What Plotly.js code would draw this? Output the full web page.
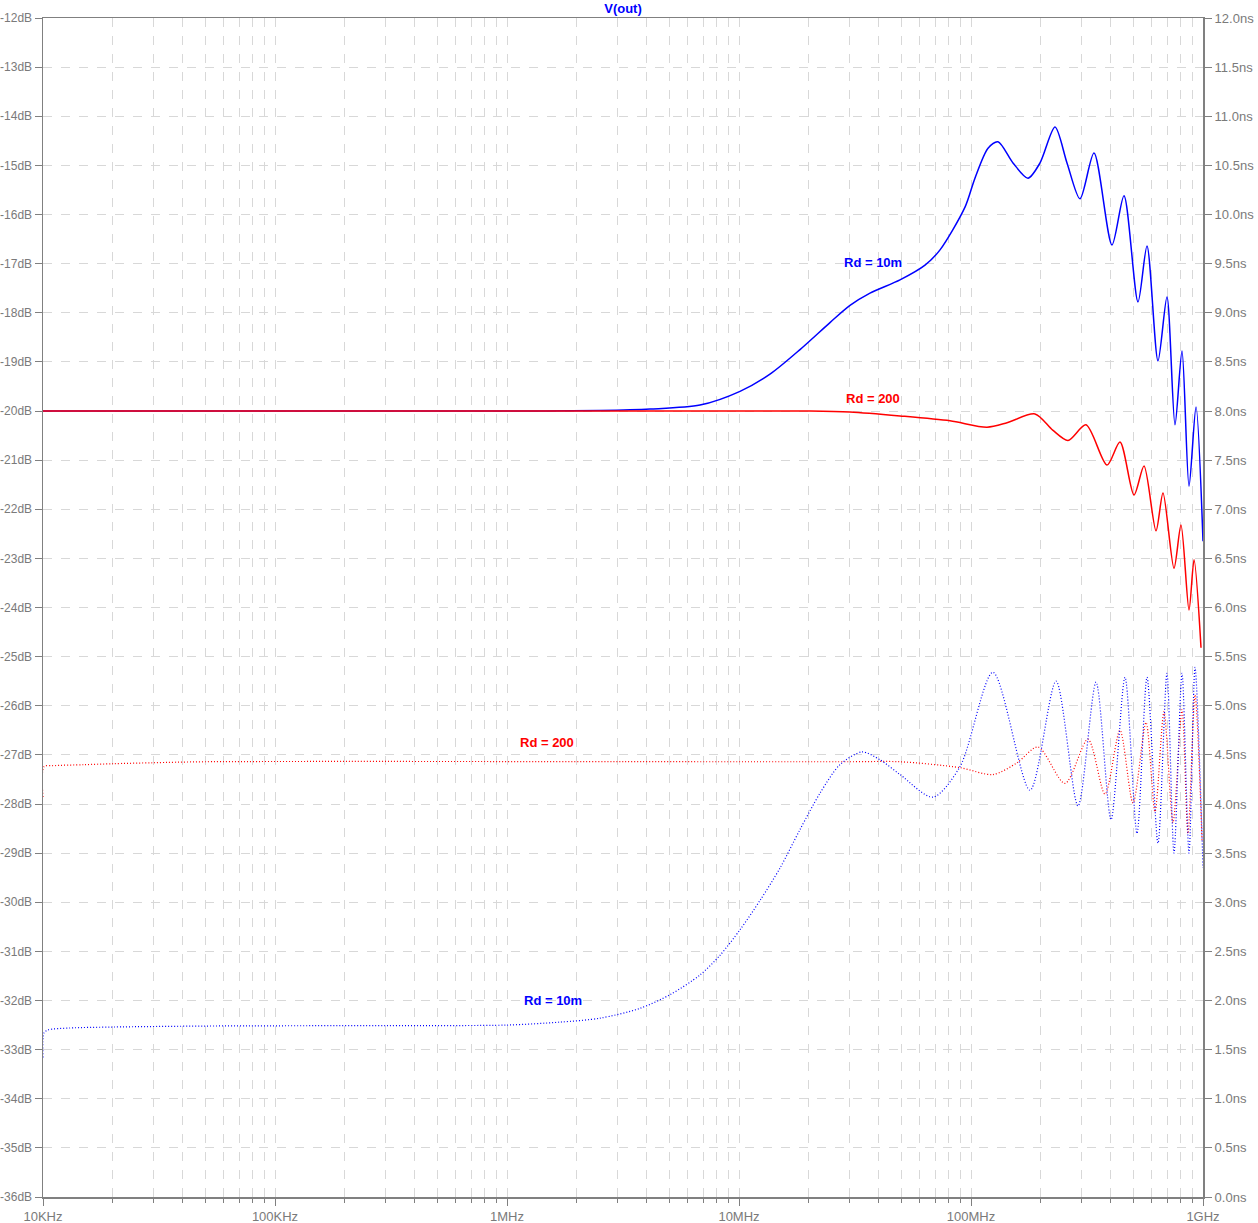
<!DOCTYPE html>
<html>
<head>
<meta charset="utf-8">
<script src="https://cdn.plot.ly/plotly-3.0.1.min.js"></script>
<style>html,body{margin:0;padding:0;background:#fff;}#chart{width:1258px;height:1223px;}</style>
</head>
<body>
<div id="chart"></div>
<script>
// Frequencies in Hz
const magBlueFreq = [1e4, 1.458e6, 2.517e6, 4.134e6, 6.79e6, 1.01e7, 1.36e7, 1.832e7, 2.467e7, 3.009e7, 3.67e7, 4.943e7, 6.335e7, 7.352e7, 9.422e7, 1.04e8, 1.184e8, 1.307e8, 1.517e8, 1.761e8, 1.984e8, 2.302e8, 2.593e8, 2.95e8, 3.39e8, 4.053e8, 4.565e8, 5.246e8, 5.736e8, 6.397e8, 6.993e8, 7.573e8, 8.118e8, 8.704e8, 9.329e8, 1e9];
const magBlue = [-20, -20, -19.99, -19.96, -19.88, -19.6, -19.25, -18.75, -18.2, -17.85, -17.6, -17.33, -17.03, -16.72, -15.85, -15.26, -14.65, -14.52, -14.95, -15.26, -14.95, -14.22, -14.95, -15.68, -14.75, -16.62, -15.62, -17.78, -16.64, -18.98, -17.68, -20.28, -18.78, -21.53, -19.92, -22.65];

const magRedFreq = [1e4, 2.023e7, 3.009e7, 4.943e7, 8.12e7, 1.172e8, 1.43e8, 1.887e8, 2.25e8, 2.619e8, 3.13e8, 3.857e8, 4.387e8, 5.043e8, 5.569e8, 6.273e8, 6.723e8, 7.499e8, 8.037e8, 8.704e8, 9.147e8, 9.804e8];
const magRed = [-20, -20, -20.02, -20.1, -20.2, -20.33, -20.24, -20.06, -20.39, -20.6, -20.28, -21.1, -20.63, -21.71, -21.12, -22.44, -21.67, -23.2, -22.32, -24.05, -23.03, -24.82];

const gdRedFreq = [1e4, 1.01e4, 1.1e4, 1.5e4, 2e4, 3e4, 5e4, 1e7, 3e7, 4.943e7, 8.966e7, 1.244e8, 1.58e8, 1.945e8, 2.542e8, 3.193e8, 3.781e8, 4.387e8, 4.993e8, 5.68e8, 6.211e8, 6.79e8, 7.423e8, 8.118e8, 8.616e8, 9.238e8, 9.901e8];
const gdRed = [4.07, 4.38, 4.39, 4.40, 4.41, 4.42, 4.43, 4.43, 4.43, 4.43, 4.37, 4.30, 4.42, 4.58, 4.21, 4.66, 4.10, 4.75, 4.01, 4.83, 3.92, 4.94, 3.81, 4.96, 3.70, 5.11, 3.63];

const gdBlueFreq = [1e4, 1.01e4, 1.05e4, 1.3e4, 2e4, 5e4, 3e5, 1e6, 1.69e6, 2.517e6, 3.74e6, 5.05e6, 6.79e6, 8.28e6, 1.01e7, 1.233e7, 1.504e7, 1.832e7, 2.234e7, 2.723e7, 3.39e7, 4.054e7, 4.943e7, 6.86e7, 8.966e7, 1.244e8, 1.796e8, 2.325e8, 2.892e8, 3.459e8, 4.013e8, 4.611e8, 5.194e8, 5.736e8, 6.397e8, 6.993e8, 7.499e8, 8.118e8, 8.704e8, 9.238e8, 1e9];
const gdBlue = [1.42, 1.67, 1.70, 1.72, 1.73, 1.74, 1.745, 1.75, 1.78, 1.82, 1.92, 2.06, 2.26, 2.46, 2.72, 3.02, 3.35, 3.74, 4.11, 4.40, 4.53, 4.45, 4.30, 4.07, 4.38, 5.34, 4.14, 5.25, 3.98, 5.24, 3.84, 5.29, 3.70, 5.29, 3.60, 5.33, 3.50, 5.33, 3.50, 5.39, 3.35];

const xTickVals = [1e4, 1e5, 1e6, 1e7, 1e8, 1e9];
const xTickText = ['10KHz', '100KHz', '1MHz', '10MHz', '100MHz', '1GHz'];
const dbTickVals = [-12,-13,-14,-15,-16,-17,-18,-19,-20,-21,-22,-23,-24,-25,-26,-27,-28,-29,-30,-31,-32,-33,-34,-35,-36];
const dbTickText = ['-12dB','-13dB','-14dB','-15dB','-16dB','-17dB','-18dB','-19dB','-20dB','-21dB','-22dB','-23dB','-24dB','-25dB','-26dB','-27dB','-28dB','-29dB','-30dB','-31dB','-32dB','-33dB','-34dB','-35dB','-36dB'];
const nsTickVals = [12,11.5,11,10.5,10,9.5,9,8.5,8,7.5,7,6.5,6,5.5,5,4.5,4,3.5,3,2.5,2,1.5,1,0.5,0];
const nsTickText = ['12.0ns','11.5ns','11.0ns','10.5ns','10.0ns','9.5ns','9.0ns','8.5ns','8.0ns','7.5ns','7.0ns','6.5ns','6.0ns','5.5ns','5.0ns','4.5ns','4.0ns','3.5ns','3.0ns','2.5ns','2.0ns','1.5ns','1.0ns','0.5ns','0.0ns'];

const labelText = ['Rd = 10m', 'Rd = 200', 'Rd = 200', 'Rd = 10m'];
const labelFreq = [3.78e7, 3.78e7, 1.486e6, 1.578e6];
const labelVal = [-16.97, -19.74, -26.74, -31.99];
const labelColor = ['#0000ff', '#ff0000', '#ff0000', '#0000ff'];

const minorVals = [];
for (let d = 4; d < 9; d++) for (let k = 2; k <= 9; k++) minorVals.push(k * Math.pow(10, d));

const BLUE = '#0000ff', RED = '#ff0000', AX = '#808080', GRID = '#d8d8d8', TXT = '#7a7a7a';
const FONT = 'Liberation Sans, Arial, sans-serif';

const traces = [
  {x: magBlueFreq, y: magBlue, type: 'scatter', mode: 'lines', line: {color: BLUE, width: 1.5, shape: 'spline', smoothing: 0.8}, yaxis: 'y', hoverinfo: 'skip'},
  {x: magRedFreq, y: magRed, type: 'scatter', mode: 'lines', line: {color: RED, width: 1.5, shape: 'spline', smoothing: 0.8}, yaxis: 'y', hoverinfo: 'skip'},
  {x: gdRedFreq, y: gdRed, type: 'scatter', mode: 'lines', line: {color: RED, width: 1.2, dash: '1px,2px', shape: 'spline', smoothing: 0.8}, yaxis: 'y2', hoverinfo: 'skip'},
  {x: gdBlueFreq, y: gdBlue, type: 'scatter', mode: 'lines', line: {color: BLUE, width: 1.2, dash: '1px,2px', shape: 'spline', smoothing: 0.8}, yaxis: 'y2', hoverinfo: 'skip'}
];

const annotations = labelText.map((t, i) => ({
  x: Math.log10(labelFreq[i]), y: labelVal[i], xref: 'x', yref: 'y',
  text: '<b>' + t + '</b>', showarrow: false,
  font: {family: FONT, size: 13, color: labelColor[i]}
}));

const layout = {
  width: 1258, height: 1223,
  margin: {l: 43, r: 55, t: 18, b: 26, pad: 0},
  paper_bgcolor: '#ffffff', plot_bgcolor: '#ffffff',
  showlegend: false,
  font: {family: FONT, size: 13, color: TXT},
  title: {text: '<b>V(out)</b>', font: {family: FONT, size: 13, color: BLUE}, x: 0.5, xref: 'paper', y: 1 - 8/1223, yref: 'container', yanchor: 'middle', xanchor: 'center'},
  xaxis: {
    type: 'log', range: [4, 9], tickmode: 'array', tickvals: xTickVals, ticktext: xTickText,
    ticks: 'outside', ticklen: 7, tickcolor: AX, tickwidth: 1,
    showline: true, linecolor: AX, linewidth: 1.5, mirror: true,
    showgrid: true, gridcolor: GRID, griddash: 'dash', gridwidth: 1,
    minor: {tickmode: 'array', tickvals: minorVals, ticks: 'outside', ticklen: 4, tickcolor: AX, showgrid: true, gridcolor: GRID, griddash: 'dash', gridwidth: 1},
    tickfont: {family: FONT, size: 13, color: TXT}, zeroline: false, fixedrange: true
  },
  yaxis: {
    range: [-36, -12], tickmode: 'array', tickvals: dbTickVals, ticktext: dbTickText,
    ticks: 'outside', ticklen: 7, tickcolor: AX, tickwidth: 1,
    showline: true, linecolor: AX, linewidth: 1.5, mirror: true,
    showgrid: true, gridcolor: GRID, griddash: 'dash', gridwidth: 1,
    tickfont: {family: FONT, size: 12, color: TXT}, zeroline: false, fixedrange: true
  },
  yaxis2: {
    overlaying: 'y', side: 'right', range: [0, 12], tickmode: 'array', tickvals: nsTickVals, ticktext: nsTickText,
    ticks: 'outside', ticklen: 8, tickcolor: AX, tickwidth: 1,
    showline: false, showgrid: false, zeroline: false,
    tickfont: {family: FONT, size: 13, color: TXT}, fixedrange: true
  },
  annotations: annotations
};

Plotly.newPlot('chart', traces, layout, {displayModeBar: false, staticPlot: true});
</script>
</body>
</html>
